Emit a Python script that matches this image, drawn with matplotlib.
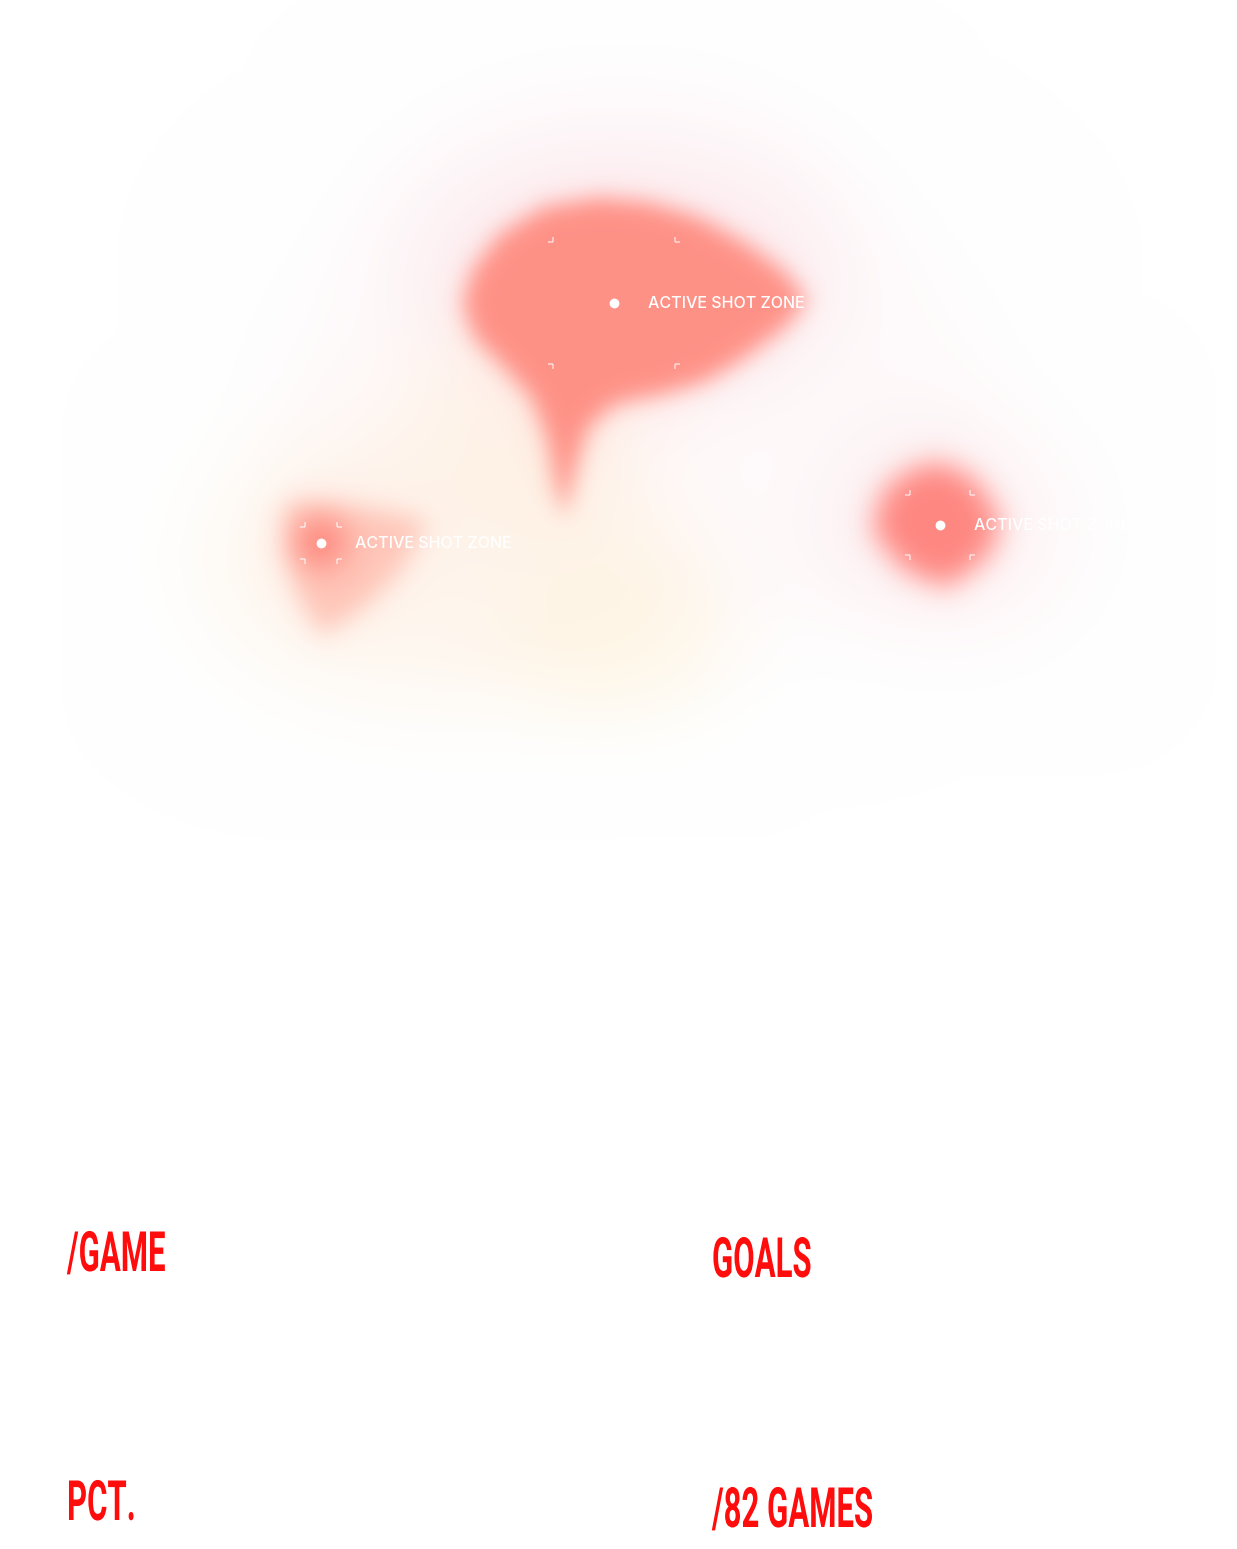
import numpy as np
import matplotlib
matplotlib.use("Agg")
import matplotlib.pyplot as plt
from matplotlib.path import Path
from matplotlib.patheffects import AbstractPathEffect
from matplotlib.transforms import Affine2D

W, H = 1237, 1549

# shot zones (pixel coords of the picture)
zone_x = [614, 321, 940]
zone_y = [303, 543, 525]
zone_box = [61, 16, 30]
zone_label = ["ACTIVE SHOT ZONE", "ACTIVE SHOT ZONE", "ACTIVE SHOT ZONE"]

# outlines of the hot areas
main_x = [600, 545, 500, 472, 463, 475, 505, 532, 548, 556, 565, 576, 588, 615, 665, 705, 745, 785, 808, 785, 745, 700, 650]
main_y = [198, 207, 235, 272, 305, 338, 368, 398, 440, 488, 518, 470, 428, 404, 394, 382, 358, 328, 300, 272, 243, 218, 203]
left_x = [286, 330, 385, 428, 400, 360, 322, 300, 288]
left_y = [503, 506, 512, 522, 570, 610, 636, 600, 550]
right_x = [940, 975, 1002, 990, 948, 905, 873, 885, 912]
right_y = [462, 480, 520, 555, 588, 570, 530, 490, 470]

# stats labels at the bottom
stat_text = ["/GAME", "GOALS", "PCT.", "/82 GAMES"]
stat_x = [67, 712, 67, 712]
stat_y = [1271, 1277, 1520, 1527]

# ---- build the heat picture on a half-resolution grid
step = 2
gx = np.arange(0, W, step) + step / 2
gy = np.arange(0, H, step) + step / 2
XX, YY = np.meshgrid(gx, gy)
pts = np.column_stack([XX.ravel(), YY.ravel()])


def blur(a, sigma):
    s = sigma / step
    r = int(3 * s) + 1
    k = np.exp(-0.5 * (np.arange(-r, r + 1) / s) ** 2)
    k /= k.sum()
    a = np.apply_along_axis(lambda v: np.convolve(v, k, mode="same"), 0, a)
    a = np.apply_along_axis(lambda v: np.convolve(v, k, mode="same"), 1, a)
    return a


def poly_mask(xs, ys):
    p = Path(np.column_stack([xs, ys]))
    return p.contains_points(pts).reshape(XX.shape).astype(float)


def ellipse_mask(cx, cy, rx, ry):
    return ((((XX - cx) / rx) ** 2 + ((YY - cy) / ry) ** 2) <= 1).astype(float)


def spot(cx, cy, s):
    return np.exp(-0.5 * (((XX - cx) / s) ** 2 + ((YY - cy) / s) ** 2))


img = np.ones(XX.shape + (3,))


def paint(alpha, color):
    global img
    c = np.array(color) / 255.0
    a = np.clip(alpha, 0, 1)[..., None]
    img = img * (1 - a) + c * a


# faint glows
paint(0.16 * blur(ellipse_mask(630, 410, 360, 250), 50), (250, 222, 228))
paint(0.30 * blur(ellipse_mask(620, 250, 230, 140), 50), (250, 215, 225))
paint(0.25 * blur(ellipse_mask(950, 530, 130, 110), 45), (250, 215, 222))
paint(0.40 * blur(ellipse_mask(440, 560, 240, 145), 45), (255, 236, 215))
paint(0.55 * blur(ellipse_mask(620, 630, 110, 85), 40), (255, 244, 220))
paint(0.35 * blur(ellipse_mask(520, 420, 120, 120), 45), (255, 238, 215))
# soft pink around hot areas
mm = poly_mask(main_x, main_y)
paint(0.30 * blur(mm, 35), (255, 195, 190))
rm = poly_mask(right_x, right_y)
paint(0.30 * blur(rm, 30), (255, 205, 195))
lm = poly_mask(left_x, left_y)
paint(0.30 * blur(lm, 28), (255, 205, 190))
# hot areas
paint(0.97 * blur(mm, 11), (255, 143, 132))
paint(0.85 * blur(lm, 12), (255, 192, 178))
paint(0.75 * spot(zone_x[1], zone_y[1], 22), (255, 132, 122))
paint(0.97 * blur(rm, 14), (255, 132, 126))


class Condense(AbstractPathEffect):
    # squeeze glyphs horizontally about the text origin
    def __init__(self, sx):
        super().__init__()
        self.sx = sx

    def draw_path(self, renderer, gc, tpath, affine, rgbFace=None):
        renderer.draw_path(gc, tpath, Affine2D().scale(self.sx, 1) + affine, rgbFace)


fig = plt.figure(figsize=(W / 100, H / 100), dpi=100)
ax = fig.add_axes([0, 0, 1, 1])
ax.imshow(img, extent=(0, W, H, 0), interpolation="bilinear")
ax.set_xlim(0, W)
ax.set_ylim(H, 0)
ax.axis("off")

# markers, corner brackets, labels
ax.scatter(zone_x, zone_y, s=50, color="white", zorder=5, linewidths=0)
for x, y, b, lab in zip(zone_x, zone_y, zone_box, zone_label):
    arm = 5
    for sx in (-1, 1):
        for sy in (-1, 1):
            cx = x + sx * b
            cy = y + sy * b
            ax.plot([cx, cx + sx * arm], [cy, cy], color="white",
                    alpha=0.6, lw=1.2, solid_capstyle="butt")
            ax.plot([cx, cx], [cy, cy + sy * arm], color="white",
                    alpha=0.6, lw=1.2, solid_capstyle="butt")
    ax.text(x + 34, y, lab, color="white", fontsize=11.6, va="center",
            ha="left", family=["Inter", "DejaVu Sans"], fontweight="medium",
            zorder=6)

for t, x, y in zip(stat_text, stat_x, stat_y):
    ax.text(x, y, t, color="#ff0c0c", fontsize=40, fontweight="bold",
            family=["Roboto", "DejaVu Sans"], ha="left", va="baseline",
            path_effects=[Condense(0.56)])

fig.savefig("out.png", dpi=100)
